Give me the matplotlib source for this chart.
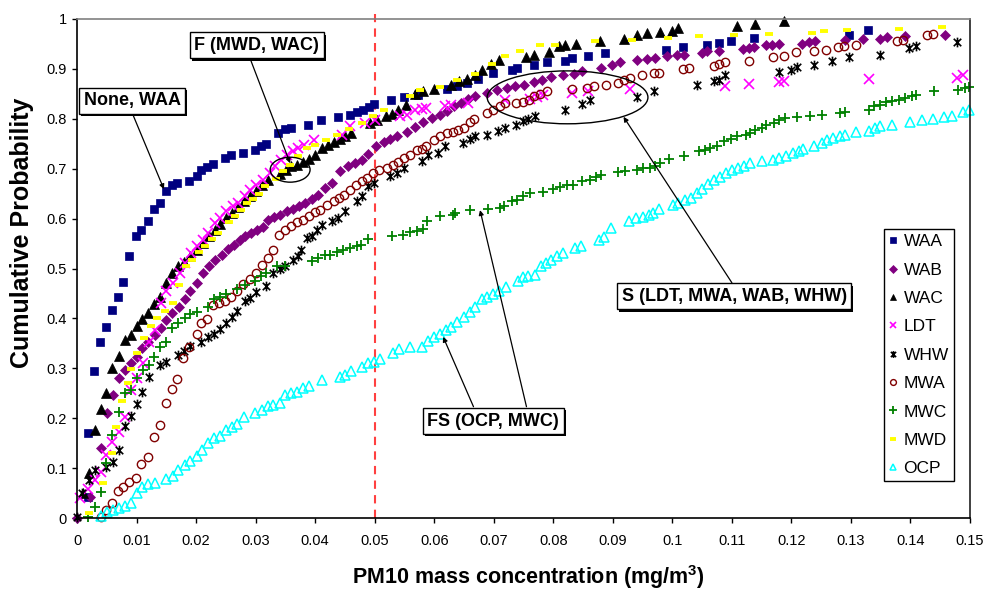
import matplotlib
matplotlib.use('Agg')
import matplotlib.pyplot as plt
from matplotlib.patches import Ellipse
from matplotlib.path import Path
from matplotlib import patheffects as pe

plt.rcParams['font.family'] = ['Liberation Sans', 'DejaVu Sans']
plt.rcParams['mathtext.fontset'] = 'custom'
plt.rcParams['mathtext.rm'] = 'Liberation Sans:bold'
plt.rcParams['mathtext.bf'] = 'Liberation Sans:bold'
plt.rcParams['mathtext.it'] = 'Liberation Sans:bold'

# ---------------- data ----------------
waa_x = [0.0018, 0.0019, 0.0029, 0.0039, 0.0049, 0.0058, 0.0069, 0.0078, 0.0087, 0.0099,
         0.0108, 0.0119, 0.0129, 0.0139, 0.0149, 0.0159, 0.0168, 0.0188, 0.0201, 0.0209,
         0.0218, 0.0229, 0.0248, 0.0259, 0.0279, 0.0299, 0.0309, 0.0318, 0.0338, 0.0349,
         0.0359, 0.0388, 0.0410, 0.0439, 0.0459, 0.0471, 0.0480, 0.0490, 0.0499, 0.0527,
         0.0549, 0.0573, 0.0621, 0.0638, 0.0655, 0.0674, 0.0699, 0.0730, 0.0739, 0.0767,
         0.0789, 0.0820, 0.0831, 0.0859, 0.0887, 0.0989, 0.1018, 0.1058, 0.1078, 0.1099,
         0.1138, 0.1297, 0.1329]
waa_y = [0.043, 0.17, 0.295, 0.352, 0.382, 0.417, 0.443, 0.472, 0.525, 0.565,
         0.578, 0.595, 0.62, 0.632, 0.655, 0.667, 0.672, 0.675, 0.685, 0.697,
         0.703, 0.71, 0.722, 0.727, 0.732, 0.738, 0.745, 0.75, 0.772, 0.779,
         0.782, 0.787, 0.797, 0.803, 0.808, 0.813, 0.817, 0.823, 0.83, 0.837,
         0.843, 0.848, 0.859, 0.866, 0.871, 0.879, 0.891, 0.898, 0.901, 0.908,
         0.913, 0.916, 0.921, 0.926, 0.931, 0.937, 0.943, 0.948, 0.951, 0.956,
         0.961, 0.967, 0.978]

wab_x = [0.0, 0.0021, 0.0041, 0.005, 0.006, 0.007, 0.008, 0.009, 0.010, 0.011,
         0.012, 0.0131, 0.0141, 0.015, 0.016, 0.0171, 0.0181, 0.019, 0.0201, 0.0212,
         0.0222, 0.0232, 0.0243, 0.0253, 0.0263, 0.0273, 0.0283, 0.0292, 0.0303, 0.0313,
         0.0321, 0.0331, 0.0341, 0.0352, 0.0363, 0.0373, 0.0383, 0.0394, 0.0405, 0.0416,
         0.0428, 0.0442, 0.0456, 0.0467, 0.0478, 0.0489, 0.0502, 0.0515, 0.0526, 0.0537,
         0.0554, 0.0568, 0.0582, 0.0596, 0.061, 0.0621, 0.0633, 0.0645, 0.0657, 0.0669,
         0.0688, 0.0705, 0.0722, 0.0736, 0.075, 0.0767, 0.0781, 0.0797, 0.0817, 0.0834,
         0.0848, 0.0881, 0.0898, 0.0912, 0.094, 0.0957, 0.0971, 0.0991, 0.1007, 0.102,
         0.1049, 0.1058, 0.1079, 0.1119, 0.1128, 0.1138, 0.1157, 0.1167, 0.118, 0.1217,
         0.1229, 0.124, 0.129, 0.132, 0.1348, 0.1361, 0.139, 0.1458]
wab_y = [0.0, 0.043, 0.14, 0.21, 0.247, 0.28, 0.297, 0.311, 0.323, 0.34,
         0.353, 0.367, 0.38, 0.397, 0.41, 0.423, 0.439, 0.455, 0.47, 0.49,
         0.505, 0.518, 0.528, 0.539, 0.548, 0.558, 0.565, 0.571, 0.578, 0.583,
         0.598, 0.603, 0.608, 0.615, 0.619, 0.625, 0.631, 0.639, 0.648, 0.661,
         0.671, 0.695, 0.705, 0.711, 0.718, 0.73, 0.745, 0.753, 0.759, 0.765,
         0.773, 0.783, 0.793, 0.801, 0.808, 0.815, 0.825, 0.831, 0.839, 0.845,
         0.851, 0.858, 0.861, 0.865, 0.868, 0.873, 0.878, 0.883, 0.888, 0.89,
         0.895, 0.901, 0.908, 0.913, 0.918, 0.919, 0.921, 0.925, 0.927, 0.927,
         0.931, 0.935, 0.935, 0.939, 0.941, 0.943, 0.947, 0.947, 0.949, 0.949,
         0.953, 0.955, 0.958, 0.96, 0.96, 0.963, 0.966, 0.968]

wac_x = [0.001, 0.002, 0.003, 0.004, 0.0049, 0.0059, 0.007, 0.008, 0.009, 0.010,
         0.011, 0.012, 0.013, 0.014, 0.015, 0.016, 0.017, 0.018, 0.019, 0.0201,
         0.0211, 0.0221, 0.0232, 0.024, 0.0251, 0.0261, 0.0271, 0.0281, 0.029, 0.030,
         0.0311, 0.0321, 0.0341, 0.0351, 0.036, 0.037, 0.038, 0.039, 0.0399, 0.0411,
         0.0422, 0.0431, 0.0441, 0.045, 0.0461, 0.0493, 0.0504, 0.0519, 0.0529, 0.054,
         0.0553, 0.0568, 0.0582, 0.0599, 0.0629, 0.0642, 0.0655, 0.0669, 0.068, 0.0695,
         0.0709, 0.0755, 0.0767, 0.0792, 0.0809, 0.082, 0.0839, 0.0879, 0.0918, 0.094,
         0.0957, 0.0979, 0.1, 0.1009, 0.1109, 0.1139, 0.1188]
wac_y = [0.05, 0.09, 0.177, 0.218, 0.25, 0.3, 0.325, 0.357, 0.367, 0.385,
         0.398, 0.41, 0.429, 0.443, 0.47, 0.491, 0.505, 0.513, 0.525, 0.537,
         0.551, 0.566, 0.578, 0.59, 0.601, 0.611, 0.623, 0.635, 0.645, 0.655,
         0.667, 0.678, 0.69, 0.698, 0.705, 0.708, 0.713, 0.719, 0.728, 0.741,
         0.748, 0.753, 0.759, 0.765, 0.771, 0.791, 0.798, 0.805, 0.81, 0.818,
         0.828, 0.849, 0.855, 0.859, 0.868, 0.875, 0.879, 0.888, 0.898, 0.909,
         0.918, 0.923, 0.928, 0.933, 0.945, 0.947, 0.949, 0.955, 0.96, 0.968,
         0.971, 0.974, 0.976, 0.981, 0.985, 0.99, 0.996]

ldt_x = [0.0005, 0.0018, 0.0031, 0.004, 0.0049, 0.0059, 0.007, 0.008, 0.009, 0.010,
         0.0111, 0.0121, 0.0131, 0.0141, 0.015, 0.0161, 0.0173, 0.0181, 0.0192, 0.0201,
         0.0212, 0.022, 0.0231, 0.024, 0.0251, 0.0262, 0.0271, 0.0282, 0.029, 0.0301,
         0.0313, 0.0324, 0.0332, 0.0342, 0.0352, 0.0363, 0.0371, 0.0381, 0.0398, 0.0445,
         0.0459, 0.0484, 0.0501, 0.0543, 0.0554, 0.0568, 0.0579, 0.0587, 0.0618, 0.0629,
         0.0657, 0.0719, 0.0761, 0.0772, 0.0783, 0.0831, 0.0859, 0.0929, 0.1088, 0.1129,
         0.118, 0.1188, 0.133, 0.1478, 0.1489]
ldt_y = [0.04, 0.058, 0.077, 0.093, 0.127, 0.153, 0.173, 0.203, 0.257, 0.28,
         0.31, 0.353, 0.377, 0.43, 0.455, 0.471, 0.491, 0.511, 0.531, 0.545,
         0.558, 0.571, 0.591, 0.601, 0.615, 0.625, 0.631, 0.645, 0.658, 0.668,
         0.678, 0.691, 0.705, 0.718, 0.728, 0.735, 0.741, 0.748, 0.758, 0.768,
         0.786, 0.791, 0.798, 0.805, 0.808, 0.818, 0.819, 0.821, 0.826, 0.828,
         0.831, 0.838, 0.839, 0.843, 0.848, 0.851, 0.855, 0.859, 0.865, 0.87,
         0.873, 0.875, 0.879, 0.881, 0.888]

whw_x = [0.0, 0.0009, 0.002, 0.003, 0.0049, 0.006, 0.007, 0.008, 0.009, 0.010,
         0.011, 0.0121, 0.014, 0.015, 0.017, 0.018, 0.0189, 0.0209, 0.022, 0.023,
         0.0241, 0.0251, 0.0261, 0.0269, 0.0282, 0.0291, 0.030, 0.0318, 0.0329, 0.0341,
         0.0349, 0.0362, 0.0371, 0.0377, 0.0386, 0.0394, 0.0403, 0.0411, 0.0428, 0.0439,
         0.045, 0.047, 0.0478, 0.0489, 0.0499, 0.0526, 0.0537, 0.0549, 0.0579, 0.059,
         0.0607, 0.0618, 0.0649, 0.066, 0.0669, 0.0688, 0.0708, 0.0719, 0.0737, 0.0749,
         0.0758, 0.0769, 0.082, 0.0849, 0.0861, 0.0941, 0.0969, 0.1041, 0.107, 0.1079,
         0.1088, 0.118, 0.1199, 0.1209, 0.1238, 0.1268, 0.1297, 0.1348, 0.1398, 0.141,
         0.1479]
whw_y = [0.002, 0.05, 0.077, 0.097, 0.103, 0.113, 0.137, 0.185, 0.205, 0.229,
         0.253, 0.283, 0.307, 0.313, 0.327, 0.335, 0.345, 0.353, 0.363, 0.369,
         0.378, 0.39, 0.403, 0.415, 0.435, 0.44, 0.453, 0.465, 0.491, 0.498,
         0.506, 0.518, 0.525, 0.538, 0.561, 0.565, 0.578, 0.588, 0.595, 0.601,
         0.615, 0.635, 0.645, 0.665, 0.671, 0.685, 0.691, 0.701, 0.715, 0.728,
         0.731, 0.745, 0.751, 0.759, 0.765, 0.768, 0.775, 0.781, 0.788, 0.795,
         0.799, 0.805, 0.818, 0.83, 0.838, 0.843, 0.855, 0.868, 0.875, 0.878,
         0.888, 0.893, 0.898, 0.903, 0.908, 0.916, 0.923, 0.927, 0.941, 0.946,
         0.953]

mwa_x = [0.0041, 0.0049, 0.0058, 0.0069, 0.0078, 0.0088, 0.0099, 0.0108, 0.0119, 0.0129,
         0.0139, 0.0149, 0.0159, 0.0168, 0.0178, 0.0188, 0.0201, 0.0209, 0.0218, 0.0229,
         0.0239, 0.0248, 0.0259, 0.0269, 0.0279, 0.029, 0.030, 0.031, 0.032, 0.0329,
         0.0339, 0.0349, 0.0359, 0.0369, 0.038, 0.0389, 0.0399, 0.0409, 0.042, 0.0431,
         0.044, 0.0449, 0.0459, 0.0469, 0.0478, 0.0487, 0.0498, 0.0508, 0.052, 0.053,
         0.054, 0.0549, 0.0559, 0.0571, 0.0579, 0.0587, 0.0599, 0.061, 0.0621, 0.0631,
         0.064, 0.065, 0.066, 0.0667, 0.0688, 0.0699, 0.0711, 0.0719, 0.0737, 0.0749,
         0.076, 0.0768, 0.0778, 0.0789, 0.0831, 0.0857, 0.0868, 0.0889, 0.0909, 0.0919,
         0.0929, 0.0949, 0.0969, 0.0978, 0.1018, 0.1028, 0.107, 0.1079, 0.1088, 0.1129,
         0.1169, 0.1188, 0.1208, 0.1238, 0.1258, 0.1279, 0.1289, 0.1309, 0.1377, 0.1388,
         0.1427, 0.1438]
mwa_y = [0.002, 0.017, 0.031, 0.055, 0.063, 0.073, 0.08, 0.109, 0.122, 0.163,
         0.187, 0.23, 0.258, 0.278, 0.32, 0.343, 0.369, 0.39, 0.398, 0.426,
         0.43, 0.435, 0.442, 0.455, 0.468, 0.478, 0.491, 0.508, 0.521, 0.538,
         0.568, 0.578, 0.586, 0.593, 0.598, 0.606, 0.613, 0.618, 0.628, 0.635,
         0.641, 0.648, 0.658, 0.668, 0.675, 0.681, 0.691, 0.698, 0.701, 0.708,
         0.713, 0.721, 0.728, 0.737, 0.739, 0.745, 0.758, 0.765, 0.771, 0.773,
         0.777, 0.781, 0.793, 0.799, 0.811, 0.818, 0.825, 0.831, 0.831, 0.833,
         0.838, 0.845, 0.85, 0.855, 0.859, 0.861, 0.866, 0.868, 0.871, 0.878,
         0.881, 0.888, 0.892, 0.892, 0.899, 0.901, 0.905, 0.91, 0.913, 0.915,
         0.923, 0.926, 0.933, 0.935, 0.938, 0.943, 0.945, 0.948, 0.956, 0.958,
         0.968, 0.969]

mwc_x = [0.0018, 0.003, 0.004, 0.0049, 0.0059, 0.007, 0.008, 0.009, 0.010, 0.0111,
         0.0121, 0.0129, 0.014, 0.015, 0.016, 0.017, 0.0181, 0.019, 0.0201, 0.022,
         0.023, 0.024, 0.0251, 0.0269, 0.0282, 0.0299, 0.0309, 0.0318, 0.0336, 0.0349,
         0.0394, 0.0405, 0.0416, 0.0425, 0.0436, 0.0447, 0.0459, 0.047, 0.0477, 0.0489,
         0.0529, 0.0548, 0.0559, 0.0571, 0.0582, 0.0588, 0.061, 0.0631, 0.0635, 0.066,
         0.0691, 0.0711, 0.0717, 0.073, 0.0739, 0.0749, 0.0761, 0.0782, 0.080, 0.0811,
         0.0823, 0.0833, 0.0849, 0.0862, 0.0872, 0.0881, 0.0909, 0.0921, 0.094, 0.0951,
         0.0962, 0.0971, 0.098, 0.0995, 0.102, 0.1044, 0.1055, 0.1064, 0.1075, 0.1086,
         0.1098, 0.1108, 0.1124, 0.1131, 0.1139, 0.115, 0.1158, 0.117, 0.118, 0.1189,
         0.121, 0.1231, 0.1251, 0.1282, 0.129, 0.1331, 0.1338, 0.1349, 0.1359, 0.1369,
         0.138, 0.1391, 0.1402, 0.141, 0.144, 0.148, 0.1492, 0.1499]
mwc_y = [0.002, 0.023, 0.052, 0.111, 0.167, 0.213, 0.25, 0.257, 0.28, 0.297,
         0.307, 0.322, 0.343, 0.353, 0.38, 0.39, 0.4, 0.408, 0.413, 0.422,
         0.438, 0.443, 0.449, 0.458, 0.467, 0.475, 0.485, 0.491, 0.505, 0.506,
         0.515, 0.522, 0.528, 0.528, 0.533, 0.538, 0.541, 0.545, 0.548, 0.559,
         0.566, 0.568, 0.573, 0.575, 0.579, 0.595, 0.605, 0.608, 0.611, 0.617,
         0.619, 0.621, 0.625, 0.635, 0.638, 0.645, 0.651, 0.653, 0.659, 0.663,
         0.668, 0.668, 0.675, 0.678, 0.683, 0.688, 0.693, 0.695, 0.698, 0.701,
         0.701, 0.705, 0.711, 0.719, 0.725, 0.735, 0.738, 0.741, 0.745, 0.755,
         0.759, 0.765, 0.768, 0.771, 0.777, 0.781, 0.787, 0.791, 0.797, 0.801,
         0.803, 0.805, 0.808, 0.811, 0.813, 0.818, 0.825, 0.828, 0.833, 0.836,
         0.838, 0.841, 0.845, 0.848, 0.855, 0.857, 0.861, 0.863]

mwd_x = [0.002, 0.0044, 0.0058, 0.0065, 0.0075, 0.0085, 0.009, 0.010, 0.0112, 0.0125,
         0.0134, 0.0148, 0.0161, 0.0172, 0.0183, 0.0194, 0.0205, 0.0215, 0.0226, 0.0237,
         0.0256, 0.0265, 0.0276, 0.0286, 0.0296, 0.0306, 0.0316, 0.0334, 0.0346, 0.0358,
         0.0372, 0.0387, 0.040, 0.0419, 0.0437, 0.0457, 0.0478, 0.0497, 0.0515, 0.0559,
         0.0576, 0.061, 0.0638, 0.0669, 0.0697, 0.0719, 0.0744, 0.0778, 0.0803, 0.087,
         0.0932, 0.0993, 0.1044, 0.1104, 0.1163, 0.1234, 0.1254, 0.1293, 0.1381, 0.1453]
mwd_y = [0.01, 0.07, 0.13, 0.183, 0.235, 0.27, 0.298, 0.331, 0.36, 0.385,
         0.4, 0.415, 0.43, 0.467, 0.505, 0.518, 0.533, 0.546, 0.559, 0.571,
         0.593, 0.605, 0.617, 0.631, 0.639, 0.649, 0.665, 0.679, 0.695, 0.707,
         0.725, 0.741, 0.748, 0.758, 0.768, 0.779, 0.791, 0.805, 0.817, 0.845,
         0.858, 0.863, 0.877, 0.89, 0.909, 0.926, 0.935, 0.948, 0.948, 0.955,
         0.958, 0.961, 0.965, 0.967, 0.969, 0.971, 0.975, 0.977, 0.979, 0.983]

ocp_x = [0.0041, 0.005, 0.006, 0.007, 0.008, 0.009, 0.010, 0.011, 0.012, 0.0131,
         0.015, 0.0161, 0.017, 0.0181, 0.019, 0.0201, 0.021, 0.022, 0.023, 0.024,
         0.025, 0.026, 0.0269, 0.0281, 0.0299, 0.031, 0.032, 0.033, 0.0341, 0.0349,
         0.036, 0.0369, 0.038, 0.039, 0.0411, 0.0441, 0.045, 0.046, 0.0479, 0.0489,
         0.0499, 0.0509, 0.053, 0.0541, 0.0559, 0.0579, 0.0589, 0.060, 0.061, 0.0619,
         0.0629, 0.0639, 0.065, 0.066, 0.0669, 0.068, 0.0689, 0.0699, 0.0709, 0.0721,
         0.074, 0.0749, 0.0758, 0.0769, 0.0779, 0.0788, 0.0797, 0.0806, 0.0817, 0.0837,
         0.0847, 0.0876, 0.0885, 0.0897, 0.0928, 0.0939, 0.0951, 0.0961, 0.0968, 0.0978,
         0.1001, 0.101, 0.1021, 0.1031, 0.1041, 0.105, 0.106, 0.107, 0.108, 0.109,
         0.1101, 0.1111, 0.112, 0.1131, 0.115, 0.1169, 0.118, 0.1191, 0.1202, 0.1212,
         0.122, 0.1238, 0.1251, 0.126, 0.127, 0.1282, 0.129, 0.1309, 0.1331, 0.134,
         0.1349, 0.1369, 0.1399, 0.1419, 0.1438, 0.1456, 0.1469, 0.1489, 0.1499]
ocp_y = [0.005, 0.012, 0.017, 0.021, 0.025, 0.03, 0.05, 0.062, 0.069, 0.071,
         0.078, 0.085, 0.097, 0.107, 0.115, 0.125, 0.137, 0.15, 0.16, 0.165,
         0.177, 0.183, 0.189, 0.203, 0.21, 0.217, 0.225, 0.227, 0.231, 0.247,
         0.251, 0.253, 0.26, 0.265, 0.277, 0.282, 0.287, 0.295, 0.303, 0.31,
         0.313, 0.318, 0.33, 0.338, 0.342, 0.343, 0.355, 0.363, 0.369, 0.377,
         0.383, 0.393, 0.403, 0.413, 0.422, 0.438, 0.443, 0.449, 0.455, 0.462,
         0.475, 0.482, 0.485, 0.487, 0.505, 0.511, 0.518, 0.525, 0.531, 0.541,
         0.546, 0.558, 0.563, 0.581, 0.595, 0.601, 0.603, 0.607, 0.611, 0.619,
         0.628, 0.631, 0.638, 0.641, 0.651, 0.659, 0.669, 0.677, 0.684, 0.691,
         0.697, 0.701, 0.705, 0.711, 0.715, 0.717, 0.721, 0.725, 0.731, 0.736,
         0.739, 0.745, 0.751, 0.758, 0.761, 0.765, 0.768, 0.773, 0.775, 0.781,
         0.786, 0.788, 0.793, 0.797, 0.8, 0.803, 0.806, 0.813, 0.818]

x_ticks = [0, 0.01, 0.02, 0.03, 0.04, 0.05, 0.06, 0.07, 0.08, 0.09, 0.1, 0.11, 0.12, 0.13, 0.14, 0.15]
x_tick_labels = ['0', '0.01', '0.02', '0.03', '0.04', '0.05', '0.06', '0.07', '0.08', '0.09',
                 '0.1', '0.11', '0.12', '0.13', '0.14', '0.15']
y_ticks = [0, 0.1, 0.2, 0.3, 0.4, 0.5, 0.6, 0.7, 0.8, 0.9, 1]
y_tick_labels = ['0', '0.1', '0.2', '0.3', '0.4', '0.5', '0.6', '0.7', '0.8', '0.9', '1']
threshold = 0.05

# ---------------- figure ----------------
W, H = 986, 590
fig = plt.figure(figsize=(W / 100, H / 100), dpi=100)
L, R, T, B = 77, 970, 19, 518
ax = fig.add_axes([L / W, 1 - B / H, (R - L) / W, (B - T) / H])
ax.set_xlim(0, 0.15)
ax.set_ylim(0, 1)

star = Path([(-1, -1), (1, 1), (-1, 1), (1, -1), (0, -1.3), (0, 1.3)],
            [Path.MOVETO, Path.LINETO, Path.MOVETO, Path.LINETO, Path.MOVETO, Path.LINETO])

series = [
    ('WAA', waa_x, waa_y, dict(marker='s', ms=5.2, mfc='#000080', mec='#000080', mew=0.5)),
    ('WAB', wab_x, wab_y, dict(marker='D', ms=5.2, mfc='#800080', mec='#800080', mew=0.5)),
    ('WAC', wac_x, wac_y, dict(marker='^', ms=6.5, mfc='black', mec='black', mew=0.5)),
    ('LDT', ldt_x, ldt_y, dict(marker='x', ms=6.5, mfc='none', mec='#FF00FF', mew=1.2)),
    ('WHW', whw_x, whw_y, dict(marker=star, ms=7, mfc='none', mec='black', mew=1.2)),
    ('MWA', mwa_x, mwa_y, dict(marker='o', ms=6, mfc='none', mec='#800000', mew=1.0)),
    ('MWC', mwc_x, mwc_y, dict(marker='+', ms=7.5, mfc='none', mec='#008000', mew=1.3)),
    ('MWD', mwd_x, mwd_y, dict(marker='_', ms=5.5, mfc='none', mec='#FFFF00', mew=2.8)),
    ('OCP', ocp_x, ocp_y, dict(marker='^', ms=7, mfc='none', mec='#00FFFF', mew=1.1)),
]
for name, xs, ys, st in series:
    ax.plot(xs, ys, linestyle='none', label=name, clip_on=False, **st)

# threshold line
ax.axvline(threshold, ymin=0, ymax=1.01, color='#FF4040', lw=1.5,
           dashes=(4, 3), clip_on=False, zorder=1)

# axes styling
ax.set_xticks(x_ticks)
ax.set_xticklabels(x_tick_labels)
ax.set_yticks(y_ticks)
ax.set_yticklabels(y_tick_labels)
ax.tick_params(axis='x', direction='out', length=3.5, width=1, pad=8, labelsize=10.5, color='black')
ax.tick_params(axis='y', direction='out', length=3.5, width=1, pad=4, labelsize=10.5, color='black')
for s in ['left', 'bottom']:
    ax.spines[s].set_color('black')
    ax.spines[s].set_linewidth(1.2)
ax.spines['top'].set_color('#808080')
ax.spines['top'].set_linewidth(1.2)
ax.spines['right'].set_color('#202020')
ax.spines['right'].set_linewidth(1.2)

# axis titles
fig.text(22 / W, 1 - 233 / H, 'Cumulative Probability', rotation=90, ha='center', va='center',
         fontsize=18, fontweight='bold')
fig.text(528 / W, 1 - 577 / H, r'PM10 mass concentration (mg/m$^{3}$)', ha='center', va='center',
         fontsize=15.5, fontweight='bold')

# legend
leg = ax.legend(loc='upper right', bbox_to_anchor=(0.982, 0.579), fontsize=12.5, frameon=True,
                fancybox=False, edgecolor='black', framealpha=1, borderpad=0.3,
                labelspacing=0.76, handlelength=0.55, handletextpad=0.3, borderaxespad=0,
                markerscale=0.7)
leg.get_frame().set_linewidth(1.0)

# annotations
box_style = dict(boxstyle='square,pad=0.25', fc='white', ec='black', lw=1.0)
arrow_style = dict(arrowstyle='-|>', color='black', lw=0.9, shrinkA=0, shrinkB=0, mutation_scale=7)


def label_box(x, y, s):
    t = ax.text(x, y, s, ha='center', va='center', fontsize=13, fontweight='bold',
                bbox=box_style, zorder=6)
    t.get_bbox_patch().set_path_effects([
        pe.SimplePatchShadow(offset=(1.5, -1.5), shadow_rgbFace='black', alpha=1.0),
        pe.Normal()])
    return t


def pointer(start, end):
    ax.annotate('', xy=end, xytext=start, arrowprops=arrow_style, zorder=5)


label_box(0.00924, 0.836, 'None, WAA')
pointer((0.0094, 0.808), (0.0146, 0.659))

label_box(0.0302, 0.947, 'F (MWD, WAC)')
pointer((0.0291, 0.920), (0.0358, 0.711))
ax.add_patch(Ellipse((0.0358, 0.698), 0.0067, 0.05, fill=False, ec='black', lw=1.0, zorder=5))

label_box(0.1104, 0.444, 'S (LDT, MWA, WAB, WHW)')
pointer((0.110, 0.4715), (0.0918, 0.804))
ax.add_patch(Ellipse((0.0824, 0.843), 0.027, 0.106, fill=False, ec='black', lw=1.0, zorder=5))

label_box(0.0699, 0.194, 'FS (OCP, MWC)')
pointer((0.0666, 0.223), (0.0615, 0.363))
pointer((0.0755, 0.223), (0.0677, 0.617))

fig.savefig('out.png', dpi=100)
